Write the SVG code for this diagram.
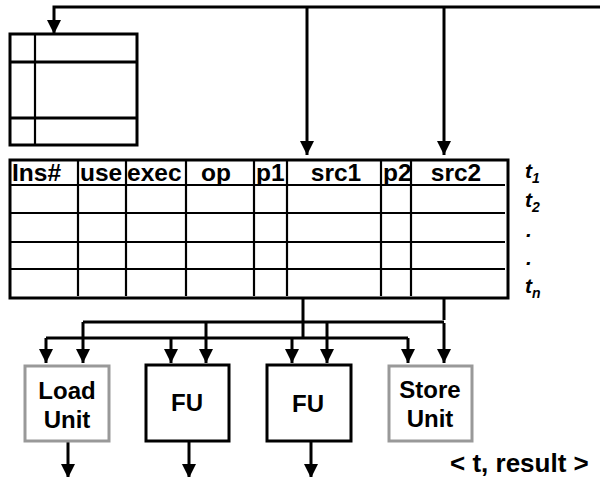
<svg xmlns="http://www.w3.org/2000/svg" width="600" height="477" viewBox="0 0 600 477">
<style>
.ln{stroke:#000;stroke-width:3;fill:none}
.thin{stroke:#000;stroke-width:2.2;fill:none}
.box{fill:#fff;stroke:#000;stroke-width:3}
.gbox{fill:#fff;stroke:#999;stroke-width:3}
text{font-family:"Liberation Sans",Arial,sans-serif;font-weight:bold;fill:#000}
.h{font-size:24.5px}
.u{font-size:24px;text-anchor:middle}
.t{font-size:21px;font-style:italic}
.s{font-size:14px;font-style:italic}
</style>
<defs>
<marker id="ah" markerUnits="userSpaceOnUse" markerWidth="14" markerHeight="14" refX="13" refY="6.5" orient="auto" viewBox="0 0 13 13">
<path d="M0,0 L13,6.5 L0,13 z" fill="#000"/>
</marker>
</defs>
<g id="regfile">
<rect class="box" x="10" y="34" width="127" height="111"/>
<line class="thin" x1="35" y1="35" x2="35" y2="144"/>
<line class="ln" x1="10" y1="62" x2="137" y2="62"/>
<line class="ln" x1="10" y1="118" x2="137" y2="118"/>
</g>
<g id="table">
<rect class="box" x="10" y="160" width="498" height="138"/>
<g class="thin">
<line x1="10" y1="185" x2="505" y2="185"/>
<line x1="10" y1="213" x2="505" y2="213"/>
<line x1="10" y1="242" x2="505" y2="242"/>
<line x1="10" y1="269" x2="505" y2="269"/>
<line x1="78" y1="160" x2="78" y2="296"/>
<line x1="126" y1="160" x2="126" y2="296"/>
<line x1="186" y1="160" x2="186" y2="296"/>
<line x1="254" y1="160" x2="254" y2="296"/>
<line x1="287" y1="160" x2="287" y2="296"/>
<line x1="381" y1="160" x2="381" y2="296"/>
<line x1="411" y1="160" x2="411" y2="296"/>
</g>
<text class="h" x="12" y="181">Ins#</text>
<text class="h" x="80" y="181">use</text>
<text class="h" x="127" y="181">exec</text>
<text class="h" x="216" y="181" text-anchor="middle">op</text>
<text class="h" x="256" y="181">p1</text>
<text class="h" x="336" y="181" text-anchor="middle">src1</text>
<text class="h" x="383" y="181">p2</text>
<text class="h" x="456" y="181" text-anchor="middle">src2</text>
</g>
<g id="timelabels">
<text class="t" x="525" y="178">t<tspan class="s" dy="5">1</tspan></text>
<text class="t" x="525" y="207">t<tspan class="s" dy="5">2</tspan></text>
<text class="t" x="526" y="237">.</text>
<text class="t" x="526" y="265">.</text>
<text class="t" x="525" y="293">t<tspan class="s" dy="5">n</tspan></text>
</g>
<g id="connectors">
<polyline class="ln" points="600,7 54,7 54,34" marker-end="url(#ah)"/>
<line class="ln" x1="307" y1="7" x2="307" y2="155" marker-end="url(#ah)"/>
<line class="ln" x1="444" y1="7" x2="444" y2="155" marker-end="url(#ah)"/>
<line class="ln" x1="303" y1="298" x2="303" y2="338"/>
<line class="ln" x1="444" y1="298" x2="444" y2="320"/>
<line class="ln" x1="83" y1="322" x2="444" y2="322"/>
<line class="ln" x1="46" y1="338" x2="408" y2="338"/>
<line class="ln" x1="83" y1="322" x2="83" y2="363" marker-end="url(#ah)"/>
<line class="ln" x1="206" y1="322" x2="206" y2="363" marker-end="url(#ah)"/>
<line class="ln" x1="327" y1="322" x2="327" y2="363" marker-end="url(#ah)"/>
<line class="ln" x1="444" y1="323" x2="444" y2="363" marker-end="url(#ah)"/>
<line class="ln" x1="46" y1="338" x2="46" y2="363" marker-end="url(#ah)"/>
<line class="ln" x1="171" y1="338" x2="171" y2="363" marker-end="url(#ah)"/>
<line class="ln" x1="292" y1="338" x2="292" y2="363" marker-end="url(#ah)"/>
<line class="ln" x1="408" y1="338" x2="408" y2="363" marker-end="url(#ah)"/>
<line class="ln" x1="68" y1="441" x2="68" y2="478" marker-end="url(#ah)"/>
<line class="ln" x1="189" y1="441" x2="189" y2="478" marker-end="url(#ah)"/>
<line class="ln" x1="311" y1="441" x2="311" y2="478" marker-end="url(#ah)"/>
</g>
<g id="loadunit">
<rect class="gbox" x="25" y="366" width="84" height="75"/>
<text class="u" x="67" y="399">Load</text>
<text class="u" x="67" y="428">Unit</text>
</g>
<g id="fu1">
<rect class="box" x="146" y="365" width="83" height="76"/>
<text class="u" x="187" y="411">FU</text>
</g>
<g id="fu2">
<rect class="box" x="267" y="365" width="84" height="76"/>
<text class="u" x="308" y="412">FU</text>
</g>
<g id="storeunit">
<rect class="gbox" x="389" y="366" width="83" height="75"/>
<text class="u" x="430" y="398">Store</text>
<text class="u" x="430" y="427">Unit</text>
</g>
<text id="result" x="450" y="472" font-size="26">&lt; t, result &gt;</text>
</svg>
